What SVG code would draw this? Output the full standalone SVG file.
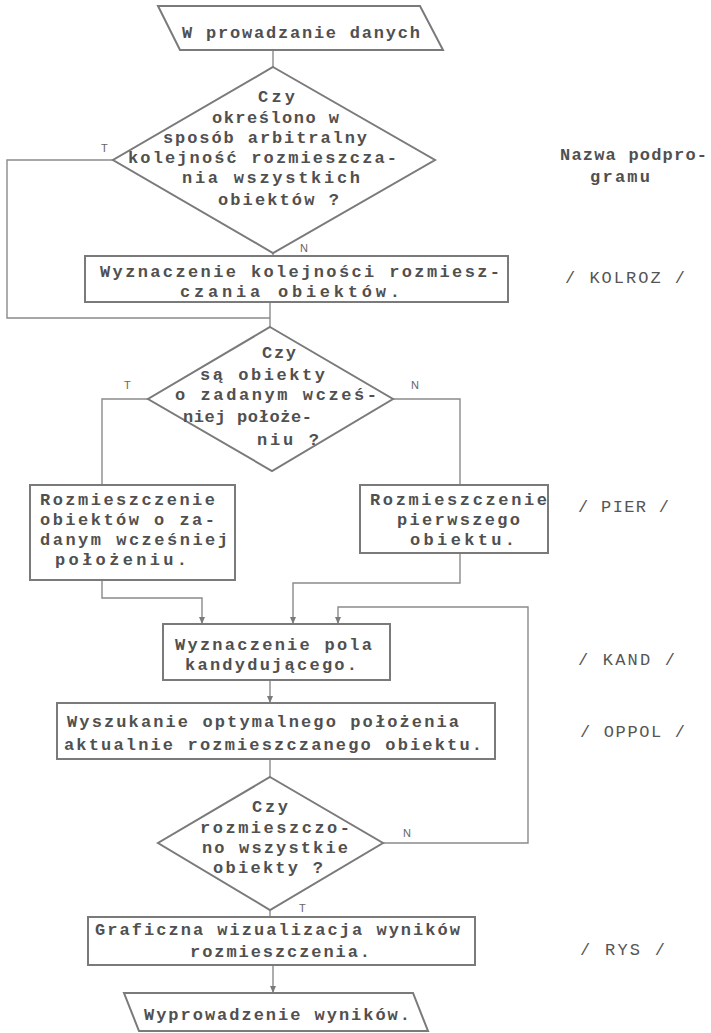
<svg xmlns="http://www.w3.org/2000/svg" width="711" height="1033" viewBox="0 0 711 1033">
<defs>
<style>
.bg{fill:#ffffff}
.shape{fill:none;stroke:#7a7a7a;stroke-width:2}
.conn{fill:none;stroke:#8a8a8a;stroke-width:1.4}
.t{font-family:"Liberation Mono","DejaVu Sans Mono",monospace;font-size:17px;font-weight:bold;fill:#505050}
.lbl{font-family:"Liberation Mono","DejaVu Sans Mono",monospace;font-size:17px;font-weight:normal;fill:#555555}
.yn{font-family:"Liberation Sans","DejaVu Sans",sans-serif;font-size:11px;fill:#666666}
</style>
<marker id="arr" markerUnits="userSpaceOnUse" markerWidth="8" markerHeight="9" refX="4" refY="8" orient="auto-start-reverse" viewBox="0 0 8 9">
<path d="M1,0 L7,0 L4,8 Z" fill="#7a7a7a" transform="rotate(-90 4 4)"/>
</marker>
<marker id="ah" markerUnits="userSpaceOnUse" markerWidth="8" markerHeight="9" refX="7" refY="4" orient="auto" viewBox="0 0 8 8">
<path d="M0,1 L7,4 L0,7 Z" fill="#7a7a7a"/>
</marker>
</defs>
<rect class="bg" x="0" y="0" width="711" height="1033"/>

<g id="connectors">
<polyline class="conn" points="273,50 273,67"/>
<polyline class="conn" points="113,160 7,160 7,318 270,318"/>
<polyline class="conn" points="273,253 273,256"/>
<polyline class="conn" points="270,302 270,327"/>
<polyline class="conn" points="148,399 102,399 102,485"/>
<polyline class="conn" points="393,399 460,399 460,485"/>
<polyline class="conn" points="102,580 102,598 202,598 202,624" marker-end="url(#ah)"/>
<polyline class="conn" points="460,553 460,583 293,583 293,624" marker-end="url(#ah)"/>
<polyline class="conn" points="383,843 528,843 528,607 338,607 338,624" marker-end="url(#ah)"/>
<polyline class="conn" points="270,680 270,703" marker-end="url(#ah)"/>
<polyline class="conn" points="270,759 270,777"/>
<polyline class="conn" points="270,910 270,917"/>
<polyline class="conn" points="273,965 273,993" marker-end="url(#ah)"/>
<text class="yn" x="101" y="152">T</text>
<text class="yn" x="300" y="252">N</text>
<text class="yn" x="124" y="389">T</text>
<text class="yn" x="411" y="389">N</text>
<text class="yn" x="403" y="837">N</text>
<text class="yn" x="299" y="912">T</text>
</g>

<g id="input">
<polygon class="shape" points="158,6 420,6 443,50 180,50"/>
<text class="t" x="182" y="38" textLength="238" lengthAdjust="spacing">W prowadzanie danych</text>
</g>

<g id="decision1">
<polygon class="shape" points="273,67 435,160 273,253 113,160"/>
<text class="t" x="258" y="102" textLength="37" lengthAdjust="spacing">Czy</text>
<text class="t" x="212" y="123" textLength="127" lengthAdjust="spacing">określono w</text>
<text class="t" x="163" y="143" textLength="204" lengthAdjust="spacing">sposób arbitralny</text>
<text class="t" x="128" y="163" textLength="269" lengthAdjust="spacing">kolejność rozmieszcza-</text>
<text class="t" x="182" y="183" textLength="178" lengthAdjust="spacing">nia wszystkich</text>
<text class="t" x="218" y="205" textLength="121" lengthAdjust="spacing">obiektów ?</text>
</g>

<g id="kolroz">
<rect class="shape" x="85" y="256" width="423" height="46"/>
<text class="t" x="100" y="277" textLength="400" lengthAdjust="spacing">Wyznaczenie kolejności rozmiesz-</text>
<text class="t" x="180" y="297" textLength="220" lengthAdjust="spacing">czania obiektów.</text>
</g>

<g id="decision2">
<polygon class="shape" points="270,327 393,399 272,471 148,399"/>
<text class="t" x="262" y="358" textLength="34" lengthAdjust="spacing">Czy</text>
<text class="t" x="200" y="380" textLength="125" lengthAdjust="spacing">są obiekty</text>
<text class="t" x="175" y="400" textLength="202" lengthAdjust="spacing">o zadanym wcześ-</text>
<text class="t" x="183" y="422" textLength="129" lengthAdjust="spacing">niej położe-</text>
<text class="t" x="257" y="445" textLength="62" lengthAdjust="spacing">niu ?</text>
</g>

<g id="place-given">
<rect class="shape" x="30" y="485" width="205" height="95"/>
<text class="t" x="40" y="505" textLength="175" lengthAdjust="spacing">Rozmieszczenie</text>
<text class="t" x="40" y="525" textLength="175" lengthAdjust="spacing">obiektów o za-</text>
<text class="t" x="40" y="545" textLength="188" lengthAdjust="spacing">danym wcześniej</text>
<text class="t" x="55" y="565" textLength="132" lengthAdjust="spacing">położeniu.</text>
</g>

<g id="place-first">
<rect class="shape" x="360" y="485" width="188" height="68"/>
<text class="t" x="370" y="505" textLength="177" lengthAdjust="spacing">Rozmieszczenie</text>
<text class="t" x="397" y="525" textLength="123" lengthAdjust="spacing">pierwszego</text>
<text class="t" x="410" y="545" textLength="105" lengthAdjust="spacing">obiektu.</text>
</g>

<g id="kand">
<rect class="shape" x="163" y="624" width="227" height="56"/>
<text class="t" x="175" y="650" textLength="197" lengthAdjust="spacing">Wyznaczenie pola</text>
<text class="t" x="185" y="670" textLength="172" lengthAdjust="spacing">kandydującego.</text>
</g>

<g id="oppol">
<rect class="shape" x="57" y="703" width="438" height="56"/>
<text class="t" x="67" y="727" textLength="392" lengthAdjust="spacing">Wyszukanie optymalnego położenia</text>
<text class="t" x="64" y="750" textLength="418" lengthAdjust="spacing">aktualnie rozmieszczanego obiektu.</text>
</g>

<g id="decision3">
<polygon class="shape" points="270,777 383,843 270,910 158,843"/>
<text class="t" x="252" y="812" textLength="36" lengthAdjust="spacing">Czy</text>
<text class="t" x="200" y="833" textLength="150" lengthAdjust="spacing">rozmieszczo-</text>
<text class="t" x="202" y="853" textLength="146" lengthAdjust="spacing">no wszystkie</text>
<text class="t" x="213" y="873" textLength="110" lengthAdjust="spacing">obiekty ?</text>
</g>

<g id="rys">
<rect class="shape" x="88" y="917" width="387" height="48"/>
<text class="t" x="95" y="935" textLength="365" lengthAdjust="spacing">Graficzna wizualizacja wyników</text>
<text class="t" x="190" y="957" textLength="180" lengthAdjust="spacing">rozmieszczenia.</text>
</g>

<g id="output">
<polygon class="shape" points="124,993 413,993 428,1031 139,1031"/>
<text class="t" x="144" y="1020" textLength="266" lengthAdjust="spacing">Wyprowadzenie wyników.</text>
</g>

<g id="labels">
<text class="t" x="560" y="160" textLength="147" lengthAdjust="spacing">Nazwa podpro-</text>
<text class="t" x="590" y="182" textLength="60" lengthAdjust="spacing">gramu</text>
<text class="lbl" x="565" y="283" textLength="120" lengthAdjust="spacing">/ KOLROZ /</text>
<text class="lbl" x="578" y="512" textLength="91" lengthAdjust="spacing">/ PIER /</text>
<text class="lbl" x="578" y="665" textLength="97" lengthAdjust="spacing">/ KAND /</text>
<text class="lbl" x="580" y="737" textLength="105" lengthAdjust="spacing">/ OPPOL /</text>
<text class="lbl" x="580" y="955" textLength="85" lengthAdjust="spacing">/ RYS /</text>
</g>
</svg>
